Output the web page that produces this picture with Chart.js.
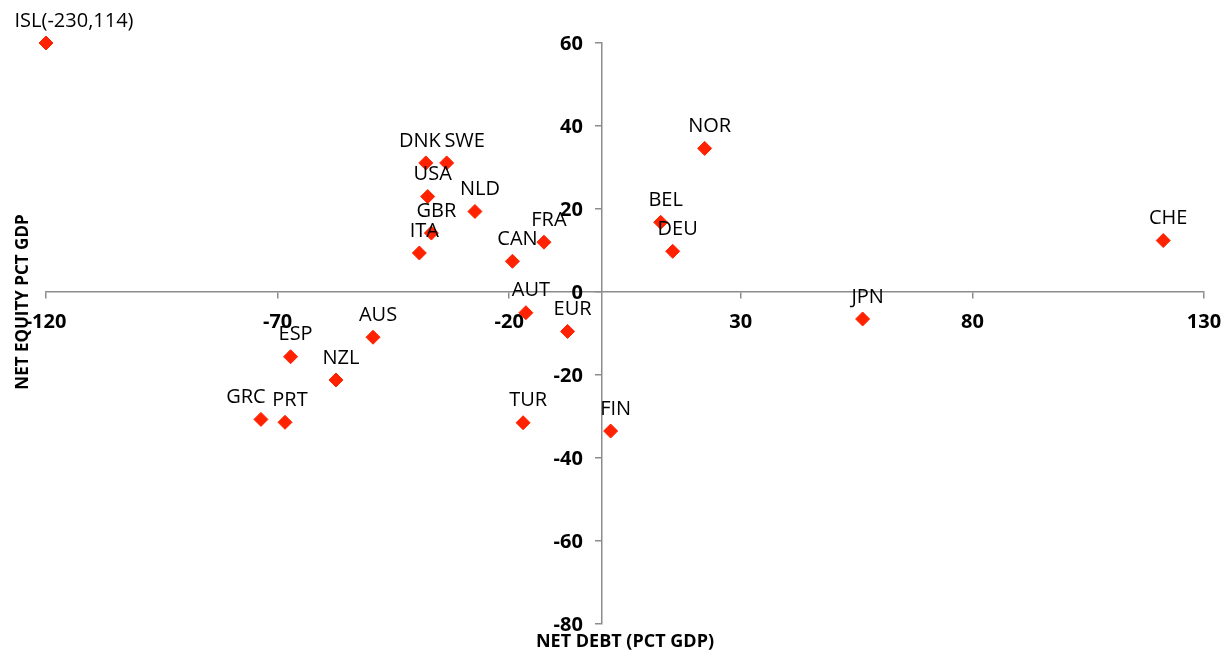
<!DOCTYPE html>
<html>
<head>
<meta charset="utf-8">
<script src="https://cdn.jsdelivr.net/npm/chart.js@4.4.1/dist/chart.umd.min.js"></script>
<style>
  html, body { margin: 0; padding: 0; background: #fff; }
  #wrap { width: 1230px; height: 658px; position: relative; }
</style>
</head>
<body>
<div id="wrap"><canvas id="c" width="1230" height="658"></canvas></div>
<script>
// ---- data ----
const countries = ["ISL(-230,114)","DNK","SWE","USA","NLD","GBR","ITA","CAN","FRA","AUT","EUR","TUR","FIN","ESP","NZL","AUS","GRC","PRT","NOR","BEL","DEU","JPN","CHE"];
const netDebt   = [-120, -38.0, -33.5, -37.6, -27.4, -36.8, -39.4, -19.3, -12.5, -16.4, -7.4, -17.0, 1.9, -67.2, -57.4, -49.4, -73.6, -68.4, 22.2, 12.7, 15.3, 56.3, 121.2];
const netEquity = [60, 31.1, 31.1, 23.0, 19.4, 14.2, 9.4, 7.4, 12.0, -5.0, -9.5, -31.5, -33.5, -15.6, -21.2, -10.9, -30.7, -31.4, 34.6, 16.8, 9.8, -6.5, 12.4];
const xTitle = "NET DEBT (PCT GDP)";
const yTitle = "NET EQUITY PCT GDP";

// ---- styles ----
const AXIS_GRAY = '#8c8c8c';
const POINT_RED = '#ff2200';
const TICK_FONT = 'bold 20px "Open Sans", sans-serif';
const labelShiftX = { "ISL(-230,114)": 23, "DNK": -11, "SWE": 13, "GRC": -20 };

const points = netDebt.map((x, i) => ({ x: x, y: netEquity[i] }));

function zeroPadding(scale) {
  scale.paddingLeft = 0; scale.paddingRight = 0;
  scale.paddingTop = 0; scale.paddingBottom = 0;
}

const labelPlugin = {
  id: 'pointLabels',
  afterDatasetsDraw(chart) {
    const ctx = chart.ctx;
    const meta = chart.getDatasetMeta(0);
    ctx.save();
    ctx.font = '20px "Open Sans", sans-serif';
    ctx.fillStyle = '#000';
    ctx.textAlign = 'center';
    ctx.textBaseline = 'middle';
    meta.data.forEach((el, i) => {
      const name = countries[i];
      const dx = 5 + (labelShiftX[name] || 0);
      ctx.fillText(name, el.x + dx, el.y - 22);
    });
    ctx.restore();
  }
};

const yTickPlugin = {
  id: 'yTickLabels',
  afterDraw(chart) {
    const ctx = chart.ctx;
    const ys = chart.scales.y;
    const x0 = chart.scales.x.getPixelForValue(0);
    ctx.save();
    ctx.font = TICK_FONT;
    ctx.fillStyle = '#000';
    ctx.textAlign = 'right';
    ctx.textBaseline = 'middle';
    ys.ticks.forEach(t => {
      ctx.fillText(String(t.value), x0 - 19, ys.getPixelForValue(t.value) + 1);
    });
    ctx.restore();
  }
};

const titlePlugin = {
  id: 'axisTitles',
  afterDraw(chart) {
    const ctx = chart.ctx;
    ctx.save();
    ctx.fillStyle = '#000';
    ctx.textAlign = 'center';
    ctx.textBaseline = 'middle';
    ctx.font = 'bold 18px "Open Sans", sans-serif';
    ctx.fillText(xTitle, 625, 642);
    ctx.font = 'bold 17px "Open Sans", sans-serif';
    ctx.translate(23, 302);
    ctx.rotate(-Math.PI / 2);
    ctx.fillText(yTitle, 0, 0);
    ctx.restore();
  }
};

new Chart(document.getElementById('c'), {
  type: 'scatter',
  data: {
    datasets: [{
      data: points,
      pointStyle: 'rectRot',
      pointRadius: 7,
      pointHoverRadius: 7,
      backgroundColor: POINT_RED,
      borderColor: POINT_RED,
      borderWidth: 1,
      clip: false
    }]
  },
  options: {
    responsive: false,
    animation: false,
    layout: { padding: { left: 46, right: 26, top: 43, bottom: 34 } },
    plugins: { legend: { display: false }, tooltip: { enabled: false } },
    scales: {
      x: {
        type: 'linear',
        position: { y: 0 },
        min: -120, max: 130,
        afterFit: zeroPadding,
        ticks: { stepSize: 50, font: { family: 'Open Sans', size: 20, weight: 'bold' }, color: '#000', padding: 12, maxRotation: 0 },
        grid: { drawOnChartArea: false, drawTicks: true, tickLength: 6, color: AXIS_GRAY, lineWidth: 1.5 },
        border: { display: true, color: AXIS_GRAY, width: 1.5 }
      },
      y: {
        type: 'linear',
        position: { x: 0 },
        min: -80, max: 60,
        afterFit: zeroPadding,
        ticks: { stepSize: 20, display: false },
        grid: { drawOnChartArea: false, drawTicks: true, tickLength: 6, color: AXIS_GRAY, lineWidth: 1.5 },
        border: { display: true, color: AXIS_GRAY, width: 1.5 }
      }
    }
  },
  plugins: [labelPlugin, yTickPlugin, titlePlugin]
});
</script>
</body>
</html>
